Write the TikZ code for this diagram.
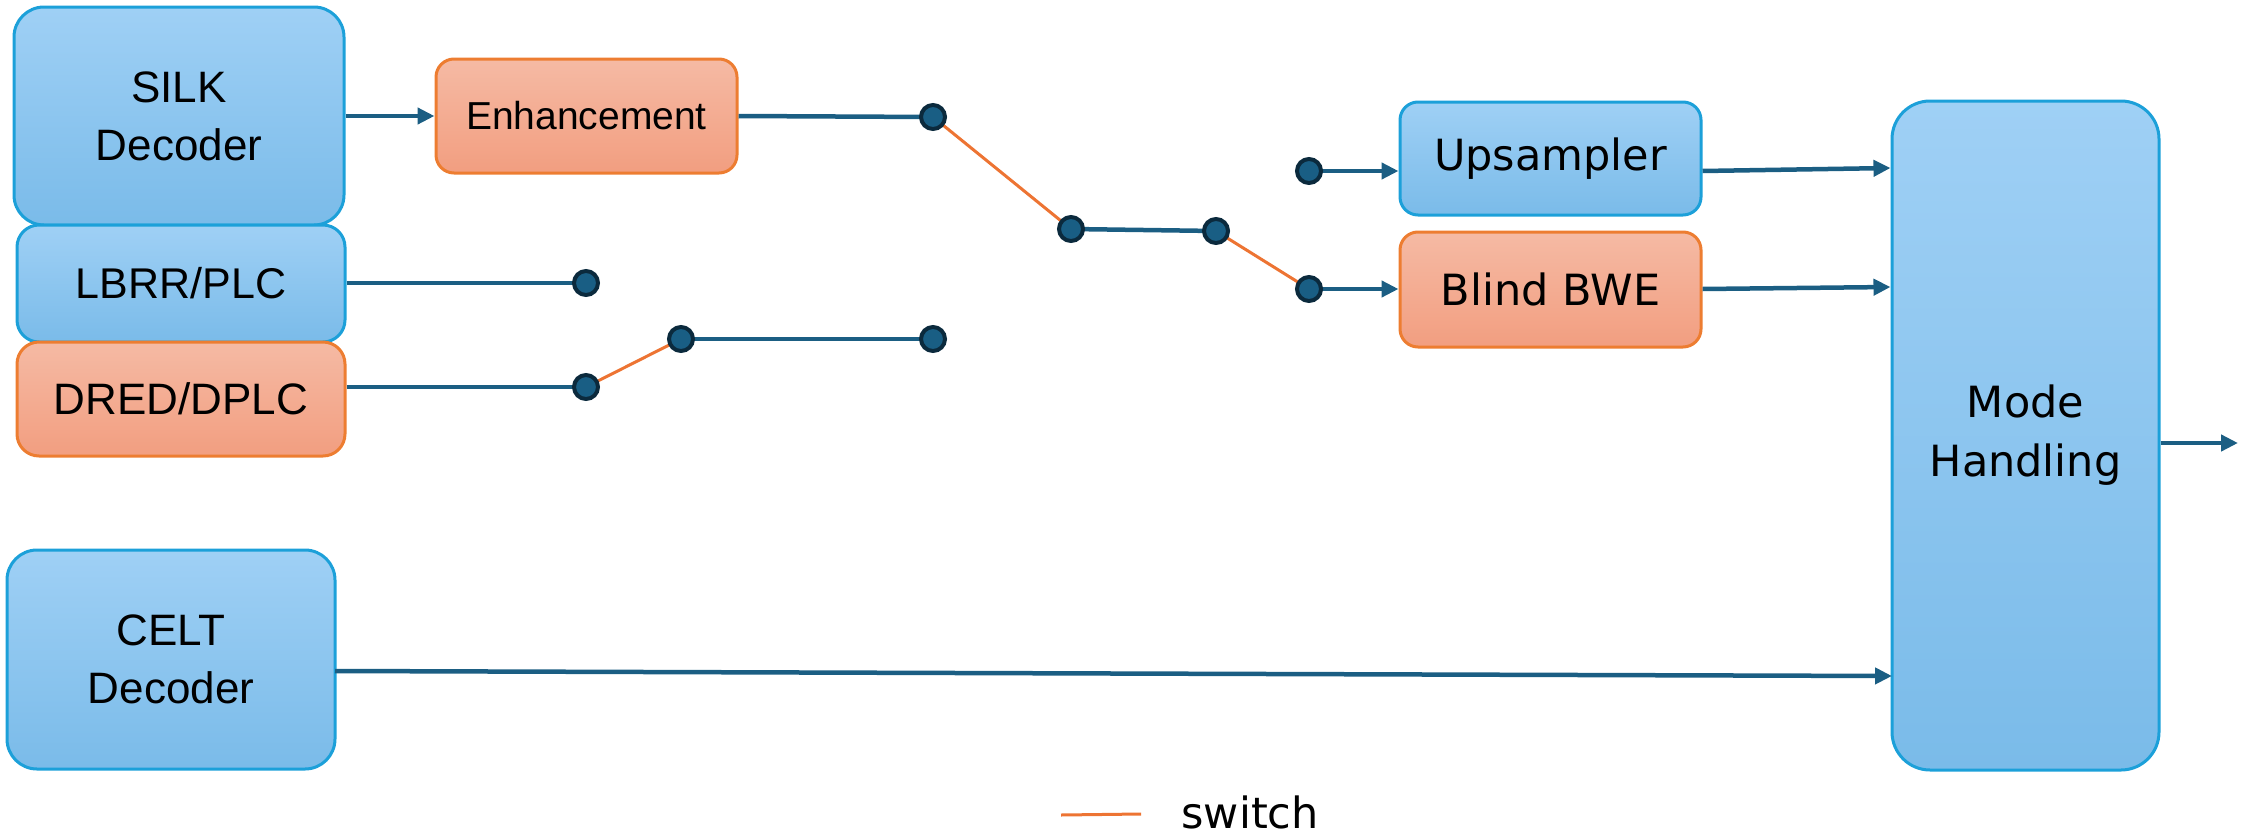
\documentclass[tikz,border=0pt]{standalone}
\usepackage{fontspec}
\setmainfont{Liberation Sans}
\newfontfamily\aptosfont{DejaVu Sans}
\usetikzlibrary{arrows.meta,calc}

\definecolor{bluetop}{HTML}{9FD0F5}
\definecolor{bluebot}{HTML}{7ABBE9}
\definecolor{blueedge}{HTML}{1CA0D9}
\definecolor{orgtop}{HTML}{F5BAA4}
\definecolor{orgbot}{HTML}{F29E80}
\definecolor{orgedge}{HTML}{ED7D31}
\definecolor{wire}{HTML}{1B5E83}
\definecolor{dotfill}{HTML}{195E84}
\definecolor{dotedge}{HTML}{0B2A3D}
\definecolor{switchcol}{HTML}{ED7433}

\tikzset{
  box/.style={draw, line width=3pt, rounded corners=#1, inner sep=0pt, align=center, text=black},
  bluebox/.style={box=#1, draw=blueedge, top color=bluetop, bottom color=bluebot},
  orangebox/.style={box=#1, draw=orgedge, top color=orgtop, bottom color=orgbot},
  armfont/.style={font=\fontsize{44}{58}\selectfont},
  aptfont/.style={font=\aptosfont\fontsize{43}{59}\selectfont},
  wireline/.style={draw=wire, line width=4.5pt},
  arr/.style={wireline, -{Triangle[length=17pt,width=16pt]}},
  switchline/.style={draw=switchcol, line width=3pt},
  pin/.style={circle, minimum size=24pt, inner sep=0pt, fill=dotfill, draw=dotedge, line width=4pt},
}

\begin{document}
\begin{tikzpicture}[x=1pt, y=-1pt]
\useasboundingbox (0,0) rectangle (2245,835);

% processing blocks
\node[bluebox=30pt, minimum width=330pt, minimum height=218pt, armfont] (silk) at (179,116) {SILK\\Decoder};
\node[orangebox=18pt, minimum width=301pt, minimum height=114pt, font=\fontsize{39}{46}\selectfont] (enh) at (586.5,116) {Enhancement};
\node[bluebox=22pt, minimum width=328pt, minimum height=117pt, font=\fontsize{43}{50}\selectfont] (lbrr) at (181,283.5) {LBRR/PLC};
\node[orangebox=22pt, minimum width=328pt, minimum height=114pt, armfont] (dred) at (181,399) {DRED/DPLC};
\node[bluebox=30pt, minimum width=328pt, minimum height=219pt, armfont] (celt) at (171,659.5) {CELT\\Decoder};
\node[bluebox=18pt, minimum width=301pt, minimum height=113pt, aptfont] (up) at (1550.5,158.5) {Upsampler};
\node[orangebox=18pt, minimum width=301pt, minimum height=115pt, aptfont] (bwe) at (1550.5,289.5) {Blind BWE};
\node[bluebox=38pt, minimum width=267pt, minimum height=669pt, aptfont] (mode) at (2025.5,435.5) {Mode\\Handling};

% switch contacts
\coordinate (p1) at (586,283);
\coordinate (p2) at (586,387);
\coordinate (p3) at (681,339);
\coordinate (p4) at (933,339);
\coordinate (p5) at (933,117);
\coordinate (p6) at (1071,229);
\coordinate (p7) at (1216,231);
\coordinate (p8) at (1309,171);
\coordinate (p9) at (1309,289);
\coordinate (celtout) at (335,671);
\coordinate (modein) at (1892,676);
\coordinate (out) at (2238,443);
\coordinate (leg1) at (1061,815);
\coordinate (leg2) at (1141,814);

% wires
\draw[arr] (silk.east |- enh.west) -- (enh.west);
\draw[wireline] (enh.east) -- (p5);
\draw[wireline] (lbrr.east |- p1) -- (p1);
\draw[wireline] (dred.east |- p2) -- (p2);
\draw[wireline] (p3) -- (p4);
\draw[wireline] (p6) -- (p7);
\draw[arr] (p8) -- (p8 -| up.west);
\draw[arr] (p9) -- (p9 -| bwe.west);
\draw[arr] (up.east |- p8) -- (mode.west |- 0,168);
\draw[arr] (bwe.east |- p9) -- (mode.west |- 0,287);
\draw[arr] (celtout) -- (modein);
\draw[arr] (mode.east |- out) -- (out);

% switch blades
\draw[switchline] (p2) -- (p3);
\draw[switchline] (p5) -- (p6);
\draw[switchline] (p7) -- (p9);

% contact dots
\foreach \p in {p1,p2,p3,p4,p5,p6,p7,p8,p9}
  \node[pin] (n\p) at (\p) {};

% legend
\draw[switchline] (leg1) -- (leg2);
\node[aptfont, anchor=west] (legtext) at (1178,812) {switch};
\end{tikzpicture}
\end{document}
